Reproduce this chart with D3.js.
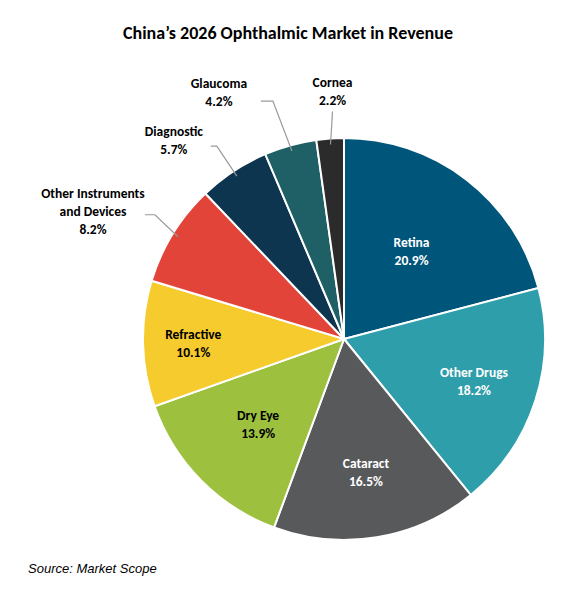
<!DOCTYPE html>
<html><head><meta charset="utf-8">
<script src="https://cdn.jsdelivr.net/npm/d3@7"></script>
<style>body{margin:0;background:#fff;}text{font-family:Calibri,Carlito,"Open Sans",Arial,sans-serif;}</style>
</head><body><svg id="chart" width="571" height="604"></svg>
<script>
var segments = ['Retina', 'Other Drugs', 'Cataract', 'Dry Eye', 'Refractive', 'Other Instruments|and Devices', 'Diagnostic', 'Glaucoma', 'Cornea'],
    shares = [20.9, 18.2, 16.5, 13.9, 10.1, 8.2, 5.7, 4.2, 2.2],
    colors = ['#00557A', '#2E9EAA', '#58595B', '#9DC13F', '#F5CB2E', '#E3443A', '#0D3550', '#1E6066', '#2B2B2B'],
    inkColors = ['#fff', '#fff', '#fff', '#000', '#000', '#000', '#000', '#000', '#000'];
// label placement: inside labels use radius factor, outside labels use elbow offsets from slice edge
var inside = [0.55, 0.68, 0.67, 0.6, 0.75];
var outside = {
    5: {elbow: [-23, -22], end: [-10, 0], text: [-85, -26]},
    6: {elbow: [-20, -30], end: [-6, 0], text: [-63, -36]},
    7: {elbow: [-19, -50], end: [-12, 0], text: [-73, -59]},
    8: {elbow: [2, -33], end: [0, 0], text: [2, -53]}
};

var svg = d3.select('#chart'),
    cx = 344, cy = 339, R = 201;

svg.append('text').attr('x', 288).attr('y', 39).attr('text-anchor', 'middle')
    .attr('font-size', 18).attr('font-weight', 'bold').text('China\u2019s 2026 Ophthalmic Market in Revenue');

var pie = d3.pie().sort(null).value(function(d) { return d; })(shares);
var arc = d3.arc().innerRadius(0).outerRadius(R);
var g = svg.append('g').attr('transform', 'translate(' + cx + ',' + cy + ')');

g.selectAll('path').data(pie).enter().append('path')
    .attr('d', arc)
    .attr('fill', function(d, i) { return colors[i]; })
    .attr('stroke', '#fff').attr('stroke-width', 2);

function label(sel, x, y, i, anchor) {
    var lines = segments[i].split('|').concat([shares[i].toFixed(1) + '%']);
    var t = sel.append('text').attr('text-anchor', anchor).attr('font-size', 13.5)
        .attr('font-weight', 'bold').attr('fill', inkColors[i]);
    lines.forEach(function(l, k) {
        t.append('tspan').attr('x', x).attr('y', y + k * 18 - (lines.length - 1) * 9 + 5).text(l);
    });
}

pie.forEach(function(d, i) {
    var a = (d.startAngle + d.endAngle) / 2;
    if (i < inside.length) {
        label(g, Math.sin(a) * R * inside[i], -Math.cos(a) * R * inside[i], i, 'middle');
    } else {
        var o = outside[i];
        var ex = Math.sin(a) * (R - 6), ey = -Math.cos(a) * (R - 6);
        var bx = ex + o.elbow[0], by = ey + o.elbow[1];
        g.append('path').attr('fill', 'none').attr('stroke', '#999').attr('stroke-width', 1.2)
            .attr('d', d3.line()([[ex, ey], [bx, by], [bx + o.end[0], by + o.end[1]]]));
        label(g, ex + o.text[0], ey + o.text[1], i, 'middle');
    }
});

svg.append('text').attr('x', 28).attr('y', 573).attr('font-size', 13).attr('font-style', 'italic')
    .style('font-family', 'Arial, "Liberation Sans", sans-serif').text('Source: Market Scope');
</script></body></html>
